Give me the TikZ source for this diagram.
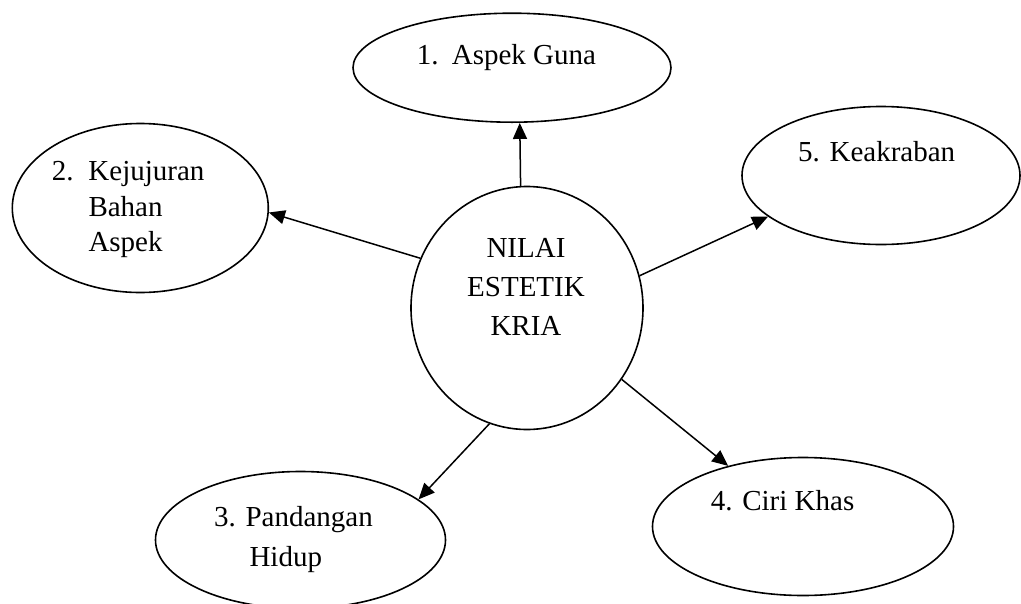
\documentclass[tikz,border=0pt]{standalone}
\usepackage{fontspec}
\setmainfont{Liberation Serif}
\usetikzlibrary{shapes.geometric,arrows.meta}

\tikzset{
  bubble/.style={draw,ellipse,line width=1.6pt,inner sep=0pt},
  txt/.style={anchor=base west,inner sep=0pt,font=\fontsize{29}{36}\selectfont},
  link/.style={line width=1.5pt,-{Triangle[length=16pt,width=14pt]}}
}

\begin{document}
\begin{tikzpicture}[x=1pt,y=-1pt]
                    \useasboundingbox (0,0) rectangle (1021,603);
                    % ellipses
                    \node[bubble,minimum width=232pt,minimum height=243pt] (nilai) at (527,308) {};
                    \node[bubble,minimum width=318pt,minimum height=109pt] (guna) at (512,67.7) {};
                    \node[bubble,minimum width=256pt,minimum height=169pt] (kej) at (140.3,208) {};
                    \node[bubble,minimum width=278pt,minimum height=138pt] (keak) at (881,175.5) {};
                    \node[bubble,minimum width=290pt,minimum height=137pt] (pand) at (300.5,540) {};
                    \node[bubble,minimum width=301pt,minimum height=138pt] (ciri) at (803,526.5) {};
                    % texts
                    \node[txt,anchor=base] (n1) at (526,257.3) {NILAI};
                    \node[txt,anchor=base] (n2) at (526,296) {ESTETIK};
                    \node[txt,anchor=base] (n3) at (526,335) {KRIA};
                    \node[txt] (g1) at (416.7,64) {\makebox[35pt][l]{1.}Aspek Guna};
                    \node[txt] (k1) at (51.7,180.7) {\makebox[36.6pt][l]{2.}Kejujuran};
                    \node[txt] (k2) at (88.3,216) {Bahan};
                    \node[txt] (k3) at (88.3,251) {Aspek};
                    \node[txt] (p1) at (214,526.7) {3. Pandangan};
                    \node[txt] (p2) at (249.3,566.7) {Hidup};
                    \node[txt] (c1) at (710.7,510.7) {4. Ciri Khas};
                    \node[txt] (e1) at (798,161.7) {5. Keakraban};
                    % arrows
                    \draw[link] (nilai.93) -- (guna.-82);
                    \draw[link] (nilai.155) -- (kej.-2);
                    \draw[link] (nilai.16) -- (keak.200);
                    \draw[link] (nilai.-37) -- (ciri.141);
                    \draw[link] (nilai.-108) -- (pand.19);
                \end{tikzpicture}
\end{document}
